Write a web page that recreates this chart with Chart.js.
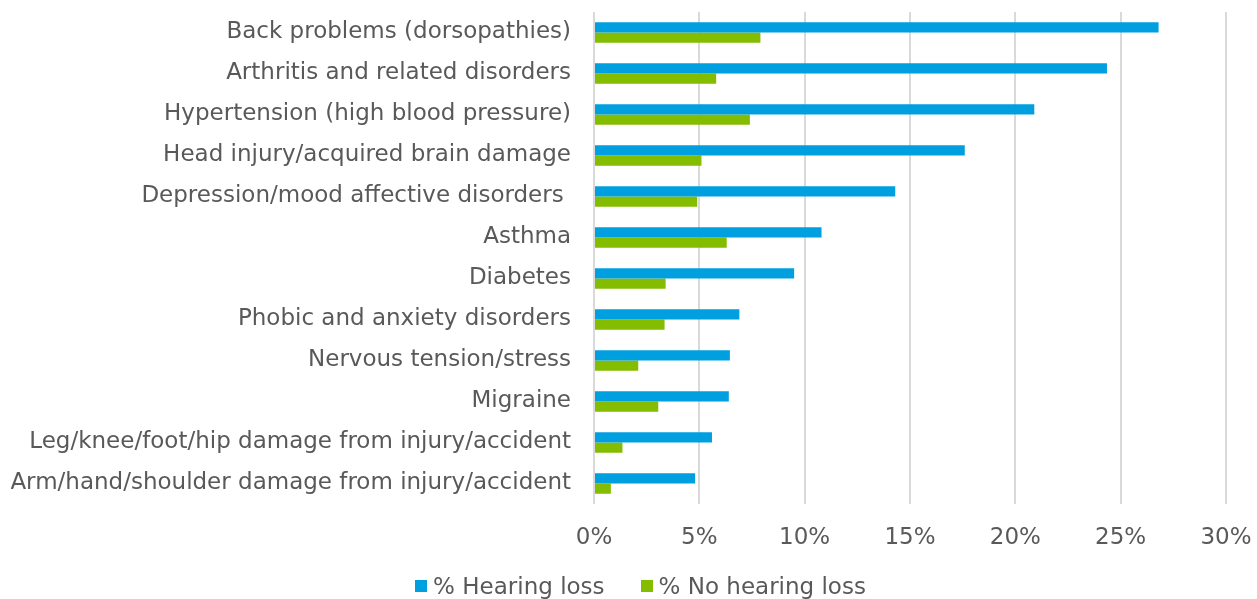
<!DOCTYPE html>
<html>
<head>
<meta charset="utf-8">
<script src="https://cdn.jsdelivr.net/npm/chart.js@4/dist/chart.umd.min.js"></script>
<style>
html,body{margin:0;padding:0;background:#fff;}
#wrap{width:1257px;height:599px;position:relative;}
#legend{position:absolute;left:0;top:572px;width:1257px;display:flex;justify-content:center;
  padding-left:24px;box-sizing:border-box;font-family:'DejaVu Sans',Verdana,sans-serif;font-size:23px;color:#595959;line-height:28px;}
#legend .item{display:flex;align-items:center;margin:0 18px;white-space:pre;}
#legend .box{width:12px;height:12px;margin-right:6px;}
</style>
</head>
<body>
<div id="wrap"><canvas id="c" width="1257" height="599"></canvas><div id="legend"></div></div>
<script>
const categories = [
  "Back problems (dorsopathies)",
  "Arthritis and related disorders",
  "Hypertension (high blood pressure)",
  "Head injury/acquired brain damage",
  "Depression/mood affective disorders ",
  "Asthma",
  "Diabetes",
  "Phobic and anxiety disorders",
  "Nervous tension/stress",
  "Migraine",
  "Leg/knee/foot/hip damage from injury/accident",
  "Arm/hand/shoulder damage from injury/accident"
];
const seriesNames = ["% Hearing loss", "% No hearing loss"];
const hearingLoss = [26.8, 24.35, 20.9, 17.6, 14.3, 10.8, 9.5, 6.9, 6.45, 6.4, 5.6, 4.8];
const noHearingLoss = [7.9, 5.8, 7.4, 5.1, 4.9, 6.3, 3.4, 3.35, 2.1, 3.05, 1.35, 0.8];
const xTicks = [0, 5, 10, 15, 20, 25, 30];

const FONT = "'DejaVu Sans', Verdana, sans-serif";
const TXT = '#595959';
const colors = ['#009fdf', '#84bc00'];

function noEdgePad(scale) {
  scale.paddingTop = 0; scale.paddingBottom = 0;
  scale.paddingLeft = 0; scale.paddingRight = 0;
}

const chart = new Chart(document.getElementById('c'), {
  type: 'bar',
  data: {
    labels: categories,
    datasets: [
      { label: seriesNames[0], data: hearingLoss, backgroundColor: colors[0], borderWidth: 0,
        categoryPercentage: 0.5, barPercentage: 1.0 },
      { label: seriesNames[1], data: noHearingLoss, backgroundColor: colors[1], borderWidth: 0,
        categoryPercentage: 0.5, barPercentage: 1.0 }
    ]
  },
  options: {
    indexAxis: 'y',
    responsive: false,
    animation: false,
    layout: { padding: { top: 12, right: 31, left: 11, bottom: 47 } },
    scales: {
      x: {
        min: 0, max: 30,
        afterBuildTicks: (ax) => { ax.ticks = xTicks.map(v => ({ value: v })); },
        afterFit: (s) => { noEdgePad(s); s.height = 48; },
        grid: { color: '#d9d9d9', lineWidth: 2, drawTicks: false },
        border: { display: false },
        ticks: { color: TXT, font: { family: FONT, size: 23 }, padding: 20, maxRotation: 0,
                 callback: (v) => v + '%' }
      },
      y: {
        afterFit: (s) => { noEdgePad(s); s.width = 583; },
        grid: { display: false, drawTicks: false },
        border: { display: false },
        ticks: { color: TXT, font: { family: FONT, size: 23 }, padding: 23, autoSkip: false }
      }
    },
    plugins: {
      tooltip: { enabled: false },
      legend: { display: false }
    }
  }
});

const leg = document.getElementById('legend');
chart.data.datasets.forEach(ds => {
  const it = document.createElement('div'); it.className = 'item';
  const b = document.createElement('span'); b.className = 'box'; b.style.background = ds.backgroundColor;
  const t = document.createElement('span'); t.textContent = ds.label;
  it.appendChild(b); it.appendChild(t); leg.appendChild(it);
});
</script>
</body>
</html>
